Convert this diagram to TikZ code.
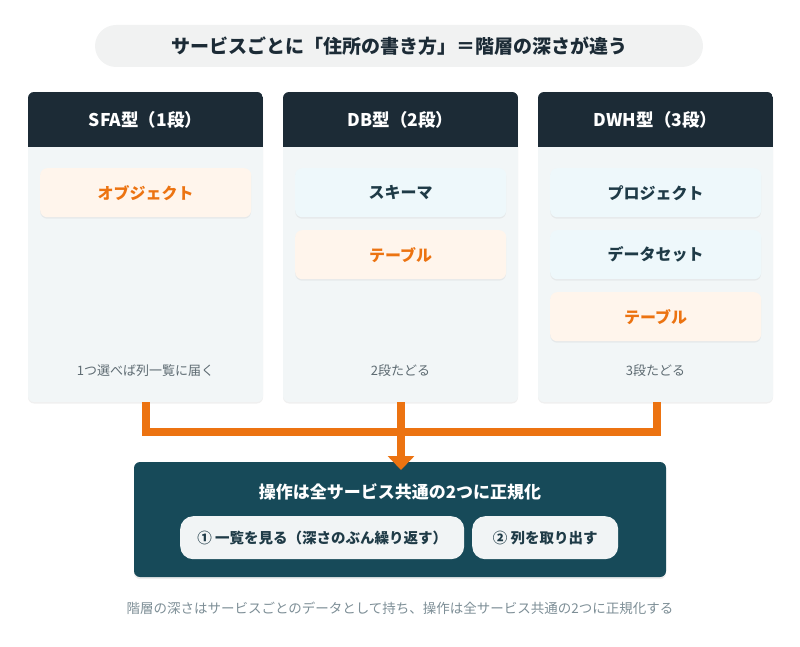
\documentclass[tikz,border=0pt]{standalone}
\usepackage{fontspec}
\setmainfont{Noto Sans CJK JP}
\usetikzlibrary{arrows.meta,shadows}
\definecolor{hdr}{HTML}{1C2B36}
\definecolor{colbg}{HTML}{F2F6F7}
\definecolor{orng}{HTML}{EC7311}
\definecolor{obg}{HTML}{FFF5EC}
\definecolor{bbg}{HTML}{EEF8FB}
\definecolor{teal}{HTML}{174A59}
\definecolor{tdark}{HTML}{1F3B47}
\definecolor{gtxt}{HTML}{5E6B72}
\definecolor{cap}{HTML}{7D8E96}
\begin{document}
\begin{tikzpicture}[x=1pt,y=-1pt,
  col/.style={fill=colbg,rounded corners=6pt,drop shadow={shadow xshift=0pt,shadow yshift=-1.5pt,opacity=0.12}},
  item/.style={rounded corners=7pt,minimum width=211pt,minimum height=49pt,anchor=north west,font=\bfseries\fontsize{16}{18}\selectfont,drop shadow={shadow xshift=0pt,shadow yshift=-1.5pt,opacity=0.1}},
  oi/.style={item,fill=obg,text=orng},
  bi/.style={item,fill=bbg,text=tdark},
  foot/.style={text=gtxt,font=\fontsize{13}{15}\selectfont},
  conn/.style={draw=orng,line width=8pt},
  pill/.style={fill=white!94!teal,rounded corners=13pt,minimum height=43pt,anchor=north west,text=tdark,font=\bfseries\fontsize{14.5}{16}\selectfont}]
\useasboundingbox (0,0) rectangle (800,647);
\node[fill=colbg!80!gray!40,rounded corners=21pt,minimum width=608pt,minimum height=42pt,font=\bfseries\fontsize{19}{21}\selectfont,text=hdr] (title) at (399,46) {サービスごとに「住所の書き方」＝階層の深さが違う};
\foreach \x/\n/\t in {28/c1/SFA型（1段）,283/c2/DB型（2段）,538/c3/DWH型（3段）}{
  \fill[col] (\x,92) rectangle ++(235,310);
  \begin{scope}
  \clip[rounded corners=6pt] (\x,92) rectangle ++(235,310);
  \fill[hdr] (\x,92) rectangle ++(235,55);
  \end{scope}
  \node[text=white,font=\bfseries\fontsize{17.5}{19}\selectfont] (\n) at (\x+117.5,119.5) {\t};
}
\node[oi] (o1) at (40,168) {オブジェクト};
\node[bi] (s2) at (295,168) {スキーマ};
\node[oi] (t2) at (295,230) {テーブル};
\node[bi] (p3) at (550,168) {プロジェクト};
\node[bi] (d3) at (550,230) {データセット};
\node[oi] (t3) at (550,292) {テーブル};
\node[foot] (f1) at (145.5,371) {1つ選べば列一覧に届く};
\node[foot] (f2) at (400.5,371) {2段たどる};
\node[foot] (f3) at (655.5,371) {3段たどる};
\coordinate (b1) at (146,402); \coordinate (b2) at (401,402); \coordinate (b3) at (657,402);
\coordinate (j1) at (146,432); \coordinate (j3) at (657,432); \coordinate (j2) at (401,432);
\fill[teal,rounded corners=6pt,drop shadow={shadow xshift=0pt,shadow yshift=-2pt,opacity=0.15}] (134,462) rectangle (666,577);
\node[text=white,font=\bfseries\fontsize{17}{19}\selectfont] (bt) at (400,492) {操作は全サービス共通の2つに正規化};
\draw[conn] (b1) -- (j1) -- (j3) -- (b3);
\draw[conn] (b2) -- (j2);
\draw[conn,-{Triangle[length=14pt,width=26pt]}] (j2) -- (401,470);
\node[pill,minimum width=284pt] (p1) at (180,516) {① 一覧を見る（深さのぶん繰り返す）};
\node[pill,minimum width=146pt] (p2) at (472,516) {② 列を取り出す};
\node[text=cap,font=\fontsize{13.5}{15}\selectfont] (cp) at (400,608) {階層の深さはサービスごとのデータとして持ち、操作は全サービス共通の2つに正規化する};
\end{tikzpicture}
\end{document}
